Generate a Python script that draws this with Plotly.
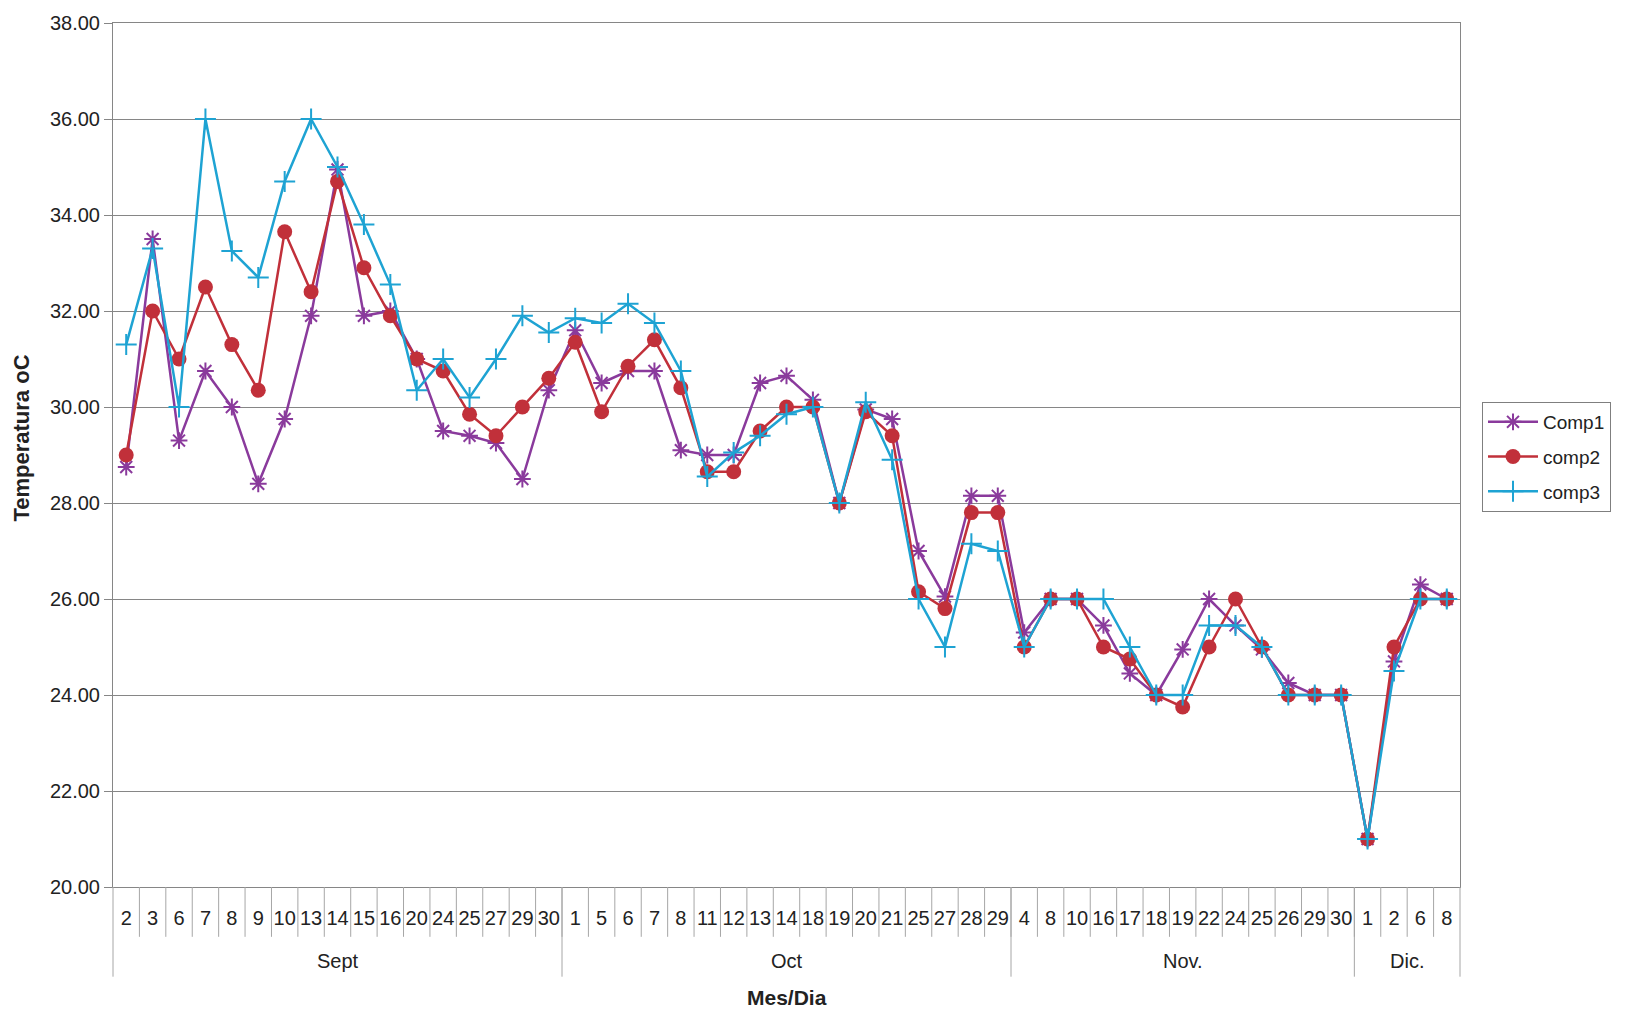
import plotly.graph_objects as go

# Sampling calendar: month label and day of each reading
months = ["Sept", "Oct", "Nov.", "Dic."]
days_sept = [2, 3, 6, 7, 8, 9, 10, 13, 14, 15, 16, 20, 24, 25, 27, 29, 30]
days_oct = [1, 5, 6, 7, 8, 11, 12, 13, 14, 18, 19, 20, 21, 25, 27, 28, 29]
days_nov = [4, 8, 10, 16, 17, 18, 19, 22, 24, 25, 26, 29, 30]
days_dic = [1, 2, 6, 8]

# Temperature (oC) for each compost pile
comp1 = [28.75, 33.5, 29.3, 30.75, 30.0, 28.4, 29.75, 31.9, 34.95, 31.9, 32.0, 31.0, 29.5, 29.4, 29.25, 28.5, 30.35,
         31.6, 30.5, 30.75, 30.75, 29.1, 29.0, 29.0, 30.5, 30.65, 30.15, 28.0, 29.95, 29.75, 27.0, 26.05, 28.15, 28.15,
         25.3, 26.0, 26.0, 25.45, 24.45, 24.0, 24.95, 26.0, 25.45, 24.95, 24.25, 24.0, 24.0,
         21.0, 24.7, 26.3, 26.0]
comp2 = [29.0, 32.0, 31.0, 32.5, 31.3, 30.35, 33.65, 32.4, 34.7, 32.9, 31.9, 31.0, 30.75, 29.85, 29.4, 30.0, 30.6,
         31.35, 29.9, 30.85, 31.4, 30.4, 28.65, 28.65, 29.5, 30.0, 30.0, 28.0, 29.9, 29.4, 26.15, 25.8, 27.8, 27.8,
         25.0, 26.0, 26.0, 25.0, 24.75, 24.0, 23.75, 25.0, 26.0, 25.0, 24.0, 24.0, 24.0,
         21.0, 25.0, 26.0, 26.0]
comp3 = [31.3, 33.3, 30.0, 36.0, 33.25, 32.7, 34.7, 36.0, 35.0, 33.8, 32.55, 30.35, 31.0, 30.2, 31.0, 31.9, 31.55,
         31.85, 31.75, 32.15, 31.75, 30.75, 28.55, 29.05, 29.4, 29.85, 30.0, 28.0, 30.1, 28.9, 26.0, 25.0, 27.15, 27.0,
         25.0, 26.0, 26.0, 26.0, 25.0, 24.0, 24.0, 25.45, 25.45, 25.0, 24.0, 24.0, 24.0,
         21.0, 24.5, 26.0, 26.0]

groups = [days_sept, days_oct, days_nov, days_dic]
day_labels = [str(d) for g in groups for d in g]
n = len(day_labels)
xs = list(range(n))

FONT = "Liberation Sans, Arial, sans-serif"
GRID = "#868686"
SEP = "#a6a6a6"

# plot-area geometry in pixels
W, H = 1627, 1013
L, R, T, B = 113, 167, 20, 126
PH = H - T - B


def py(px_below):
    """paper y for a distance in pixels below the x axis"""
    return -px_below / PH


fig = go.Figure()
series = [
    ("Comp1", comp1, "#8a3a9c", dict(symbol="asterisk-open", size=14, line=dict(width=2, color="#8a3a9c"))),
    ("comp2", comp2, "#c1303a", dict(symbol="circle", size=15, color="#c1303a", line=dict(width=0))),
    ("comp3", comp3, "#1ea3d3", dict(symbol="cross-thin-open", size=15, line=dict(width=2, color="#1ea3d3"))),
]
for name, vals, col, mk in series:
    fig.add_trace(go.Scatter(x=xs, y=vals, name=name, legendgroup=name, mode="lines+markers",
                             line=dict(color=col, width=2.5), marker=mk, cliponaxis=False))

shapes = []
# separators between day labels
for i in range(1, n):
    shapes.append(dict(type="line", xref="x", yref="paper", x0=i - 0.5, x1=i - 0.5,
                       y0=0, y1=py(50), line=dict(color=SEP, width=1)))
# month dividers (through day row and month row)
start = 0
bounds = [0]
for g in groups:
    start += len(g)
    bounds.append(start)
for b in bounds:
    if b == 0:
        xr, xv = "paper", 0
    elif b == n:
        xr, xv = "paper", 1
    else:
        xr, xv = "x", b - 0.5
    shapes.append(dict(type="line", xref=xr, yref="paper", x0=xv, x1=xv,
                       y0=0, y1=py(90), line=dict(color=SEP, width=1)))

annotations = []
for k, m in enumerate(months):
    center = (bounds[k] + bounds[k + 1] - 1) / 2
    annotations.append(dict(x=center, y=py(74), xref="x", yref="paper", text=m, showarrow=False,
                            font=dict(family=FONT, size=20, color="#222"), yanchor="middle"))
annotations.append(dict(x=0.5, y=py(111), xref="paper", yref="paper", text="<b>Mes/Dia</b>",
                        showarrow=False, font=dict(family=FONT, size=21, color="#222"), yanchor="middle"))
annotations.append(dict(x=-(L - 22) / (W - L - R), y=(H - B - 437) / PH, xref="paper", yref="paper",
                        text="<b>Temperatura oC</b>", textangle=-90, showarrow=False,
                        font=dict(family=FONT, size=22, color="#222"), xanchor="center", yanchor="middle"))

fig.update_layout(
    width=W, height=H,
    margin=dict(l=L, r=R, t=T, b=B),
    paper_bgcolor="white", plot_bgcolor="white",
    font=dict(family=FONT, color="#222"),
    shapes=shapes, annotations=annotations,
    showlegend=True,
    legend=dict(xref="container", yref="container", x=1482 / W, y=1 - 402 / H,
                xanchor="left", yanchor="top", bordercolor="#7f7f7f", borderwidth=1,
                bgcolor="white", font=dict(family=FONT, size=19, color="#222"),
                itemwidth=50, tracegroupgap=7),
)
fig.update_xaxes(range=[-0.5, n - 0.5], tickmode="array", tickvals=xs, ticktext=day_labels,
                 ticks="", showgrid=False, zeroline=False, showline=True, linecolor=GRID, linewidth=1,
                 mirror=True, ticklabelstandoff=13,
                 tickfont=dict(family=FONT, size=20, color="#222"))
fig.update_yaxes(range=[20, 38], dtick=2, tick0=20, tickformat=".2f", ticks="outside", ticklen=8,
                 tickcolor=GRID, showgrid=True, gridcolor=GRID, gridwidth=1, zeroline=False,
                 showline=True, linecolor=GRID, linewidth=1, mirror=True,
                 tickfont=dict(family=FONT, size=20, color="#222"))

fig.write_html("out.html")
